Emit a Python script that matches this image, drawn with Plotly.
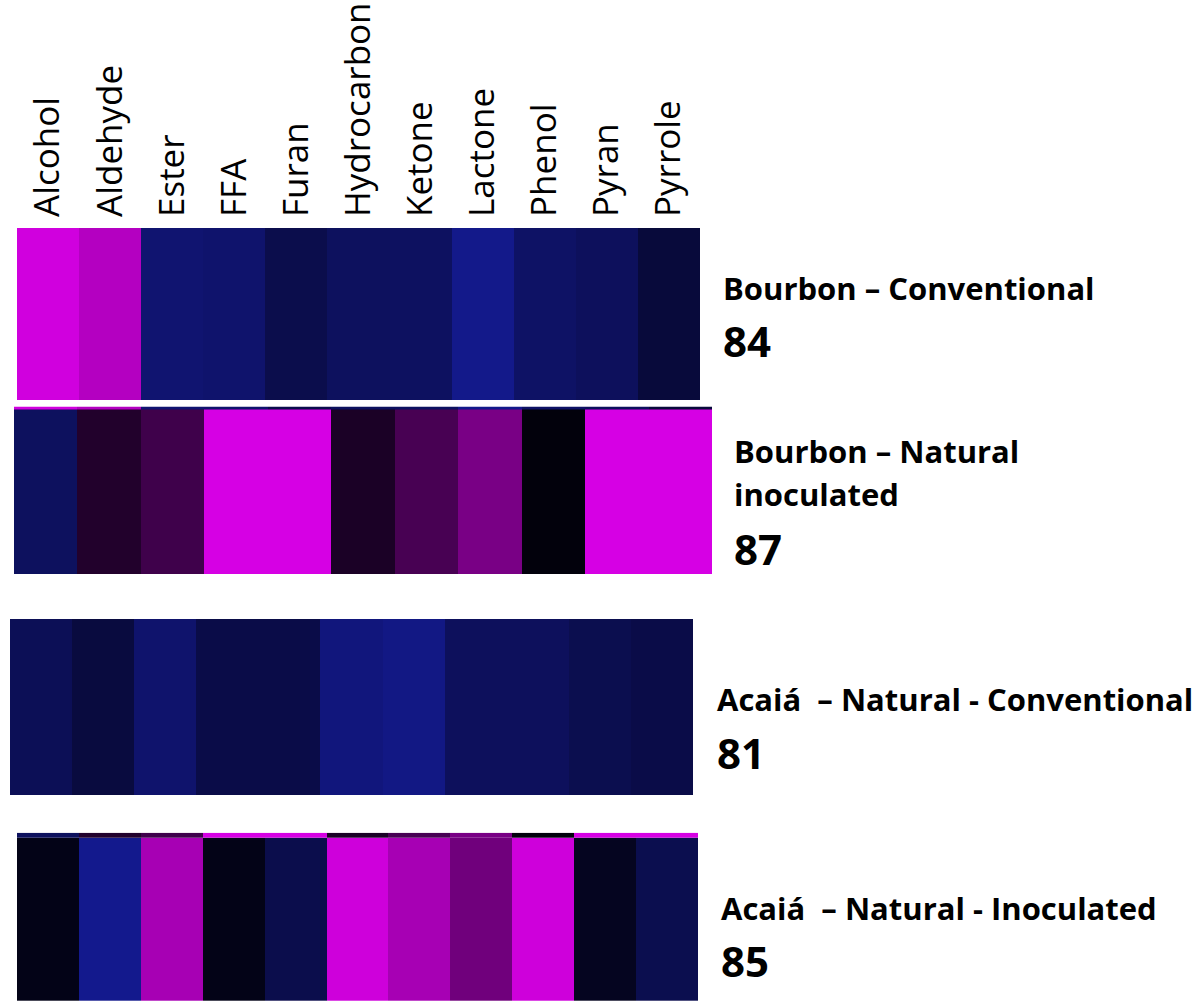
import plotly.graph_objects as go

# Volatile compound classes (columns of every strip)
compound_classes = ["Alcohol", "Aldehyde", "Ester", "FFA", "Furan", "Hydrocarbon",
                    "Ketone", "Lactone", "Phenol", "Pyran", "Pyrrole"]

# Relative abundance scores per treatment (-1 = low / blue, +1 = high / magenta)
bourbon_conventional = [0.97, 0.84, -0.75, -0.72, -0.48, -0.62, -0.63, -0.95, -0.67, -0.60, -0.35]
bourbon_natural_inoculated = [-0.62, 0.15, 0.29, 1.00, 1.00, 0.12, 0.33, 0.56, 0.00, 1.00, 1.00]
acaia_natural_conventional = [-0.56, -0.38, -0.72, -0.45, -0.45, -0.84, -0.90, -0.60, -0.60, -0.50, -0.45]
acaia_natural_inoculated = [-0.08, -0.97, 0.78, -0.08, -0.48, 0.96, 0.78, 0.52, 0.96, -0.15, -0.50]

# Treatment names and cup scores
treatment_names = [["Bourbon – Conventional"],
                   ["Bourbon – Natural", "inoculated"],
                   ["Acaiá  – Natural - Conventional"],
                   ["Acaiá  – Natural - Inoculated"]]
cup_scores = ["84", "87", "81", "85"]

W, H = 1196, 1001
colorscale = [[0.0, "rgb(20,26,145)"], [0.5, "rgb(2,1,12)"], [1.0, "rgb(214,0,228)"]]

strips = [bourbon_conventional, bourbon_natural_inoculated,
          acaia_natural_conventional, acaia_natural_inoculated]

# pixel boxes of each strip: (left, right, top, bottom), plus thin band on top
boxes = [(17, 700, 228, 400), (14, 712, 406.5, 574), (10, 693, 619, 795), (17, 698, 832.7, 1001)]
bands = [None, (bourbon_conventional, 2.5), None, (bourbon_natural_inoculated, 5.0)]

fig = go.Figure()
layout = {}
for i, (vals, (l, r, t, b), band) in enumerate(zip(strips, boxes, bands)):
    n = i + 1
    xa = "x" if n == 1 else f"x{n}"
    ya = "y" if n == 1 else f"y{n}"
    main_h = b - t
    extra = 0.0
    if band is not None:
        main_h = b - t - band[1]
        extra = band[1] / main_h
    fig.add_trace(go.Heatmap(
        z=[vals], x=compound_classes, y0=0.5, dy=1,
        colorscale=colorscale, zmin=-1, zmax=1, showscale=False,
        xaxis=xa, yaxis=ya, hoverinfo="skip"))
    if band is not None:
        fig.add_trace(go.Heatmap(
            z=[band[0]], x=compound_classes, y0=1 + extra / 2, dy=extra,
            colorscale=colorscale, zmin=-1, zmax=1, showscale=False,
            xaxis=xa, yaxis=ya, hoverinfo="skip"))
    xkey = "xaxis" if n == 1 else f"xaxis{n}"
    ykey = "yaxis" if n == 1 else f"yaxis{n}"
    layout[xkey] = dict(domain=[l / W, r / W], anchor=ya, showgrid=False, zeroline=False,
                        showline=False, ticks="", showticklabels=(n == 1),
                        side="top", tickangle=-90, ticklabelstandoff=10,
                        tickfont=dict(family="Open Sans", size=35, color="black"),
                        range=[-0.5, len(compound_classes) - 0.5], fixedrange=True)
    layout[ykey] = dict(domain=[1 - b / H, 1 - t / H], anchor=xa, showgrid=False,
                        zeroline=False, showline=False, showticklabels=False,
                        range=[0, 1 + extra], fixedrange=True)

fig.update_layout(**layout)

# treatment labels to the right of each strip
label_specs = [
    (721, [288], 340),
    (732, [451, 494], 548),
    (715, [699], 752),
    (719, [908], 960),
]
annotations = []
for (x, ys, yscore), lines, score in zip(label_specs, treatment_names, cup_scores):
    for y, line in zip(ys, lines):
        annotations.append(dict(x=x / W, y=1 - y / H, xref="paper", yref="paper",
                                text=f"<b>{line}</b>", showarrow=False,
                                xanchor="left", yanchor="middle",
                                font=dict(family="Open Sans", size=31, color="black")))
    annotations.append(dict(x=x / W, y=1 - yscore / H, xref="paper", yref="paper",
                            text=f"<b>{score}</b>", showarrow=False,
                            xanchor="left", yanchor="middle",
                            font=dict(family="Open Sans", size=42, color="black")))

fig.update_layout(width=W, height=H, margin=dict(l=0, r=0, t=0, b=0),
                  paper_bgcolor="white", plot_bgcolor="white",
                  annotations=annotations, showlegend=False)

fig.write_html("out.html")
